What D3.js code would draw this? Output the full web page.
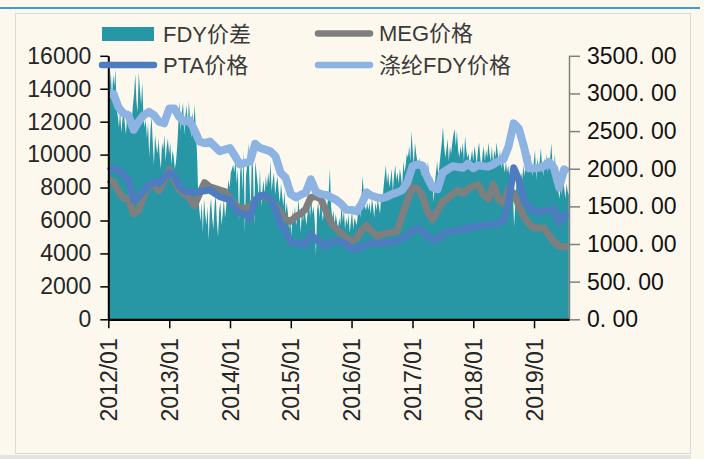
<!DOCTYPE html>
<html>
<head>
<meta charset="utf-8">
<script src="https://cdn.jsdelivr.net/npm/d3@7"></script>
<style>
  html, body { margin: 0; padding: 0; background: #FCF8EE; }
  svg { display: block; }
  text { font-family: "Liberation Sans", Arial, "Noto Sans CJK SC", sans-serif; }
</style>
</head>
<body>
<svg id="chart" width="704" height="459"></svg>
<script>
// ---- data ----
const seriesNames = ["FDY价差", "MEG价格", "PTA价格", "涤纶FDY价格"];
const yearTicks = ["2012/01", "2013/01", "2014/01", "2015/01", "2016/01", "2017/01", "2018/01", "2019/01"];
const leftTicks = [0, 2000, 4000, 6000, 8000, 10000, 12000, 14000, 16000];
const rightTicks = [0, 500, 1000, 1500, 2000, 2500, 3000, 3500];

// FDY spread (right axis), weekly from 2012-01-02
const spreadStart = "2012-01-02";
const spreadWeekly = [
  2950, 3050, 3300, 2900, 3250, 3100, 3320, 2800,
  2700, 2550, 2780, 2480, 2650, 2800, 2600, 2450, 2720, 2680, 2560, 2750, 2620,
  2850, 3000, 3260, 2900, 2750, 3280, 3050, 2850, 3150, 2700,
  2550, 2650, 2400, 2600, 2150, 2500, 2700, 2350, 2050, 2450, 2300, 2200,
  2400, 2150, 2000, 2350, 2250, 2450, 2100, 2300, 2400, 2200, 2350, 2050, 2250, 2150, 2000, 2100,
  2300, 2600, 2900, 2500, 2750, 2880, 2450, 2700, 2850, 2550, 2900, 2650, 2400, 2750, 2600, 2850, 2500, 2200,
  1650, 1450, 1300, 1550, 1150, 1600, 1400, 1250, 1500, 1050, 1450, 1600, 1350, 1200, 1500, 1650, 1300, 1100,
  1450, 1550, 1250, 1400, 1600, 1350, 1500, 1700, 1850, 1750, 1950, 2000,
  2050, 1950, 2150, 1800, 2000, 1300, 1950, 2100, 1700, 2250, 1150, 1900, 2050, 2350, 1850, 1400, 2200, 2000,
  1250, 2100, 1950, 1800, 1600, 2000,
  1500, 1700, 1850, 1650, 1900, 1750, 1950, 1800, 2100, 1700, 1850, 1950, 1650, 1800, 1900, 1700, 1550, 1800,
  1650, 1500, 1700, 1400, 1550,
  1400, 1200, 1350, 1100, 1450, 1300, 1500, 1250, 1350, 1600, 1400, 1150, 1450, 1300, 1550, 1350, 1250,
  1450, 1550, 1350, 1600, 1400, 1500, 1300, 850, 1450, 1550, 1350, 1650, 1450, 1300, 1500, 1600, 1400, 1550,
  1700, 2000, 1500, 1350, 1450, 1250, 1400, 1300, 1200, 1350, 1250,
  1550, 1300, 1450, 1200, 1350, 1250, 1400, 1150, 1300, 1450, 1200, 1350, 1300, 1250, 1400, 1500, 1350,
  1600, 1900, 1700, 1500, 1450, 1550,
  1450, 1550, 1400, 1600, 1500, 1350, 1550, 1450, 1600, 1500, 1400, 1650, 1550, 1750,
  1900, 2050, 1800, 1950, 1750, 1850, 2000, 1700, 1900, 2050, 1850, 1950, 1800, 2000, 1900, 1750, 2100, 1950,
  2050, 2200,
  2150, 2300, 2100, 2500, 2250, 2050, 2350, 2200, 2100, 2000, 2150,
  2000, 1900, 2050, 1850, 1950, 1800, 2100, 1950, 1850, 1750, 1900, 1550, 1800, 1950, 2100, 1900, 2050,
  2200, 2350, 2560, 2300, 2150, 2250, 2400, 2100, 2300, 2200, 2350, 2450, 2530, 2300, 2500, 2250, 2150, 2300,
  2200, 2350, 2100, 2430, 2250, 2150, 2200, 2050,
  2150, 2250, 2100, 2300, 2200, 2050, 2250, 2350, 2150, 2000, 2200, 2300, 2100, 2250, 2150, 2350, 2200, 2100,
  2300, 2050, 2250, 2150, 2350, 2200, 2100, 2250, 2000, 2150, 2050, 1950, 2100, 1950,
  2050, 1900, 2000, 1850, 1700, 1230, 1500, 1800,
  1900, 2000, 1750, 1950, 1850, 2050, 1900, 2100, 2000,
  2150, 1950, 2200, 2050, 1900, 2100, 2250, 1850, 2150, 2000, 2100, 2280, 2050, 1900, 2150, 2000, 2200, 1950,
  2100, 2150, 2340, 2050, 1950, 2200, 1900, 1800,
  1700, 1600, 1850, 1650, 1890, 1750, 1600, 1800, 1700, 1650
];

// Prices (left axis), monthly from 2012/01, plus a final late-July reading
const priceStart = "2012/01";
const priceLastDate = "2019-07-26";
const megMonthly = [
  8500, 8350, 7800, 7350, 7300, 6400, 6600, 7500, 8150, 8200, 7800, 8400,
  9100, 8400, 7900, 7600, 7400, 6900, 7600, 8300, 8050, 7950, 7850, 7750,
  7350, 6950, 6740, 6740, 6800, 7250, 7440, 7440, 7250, 6900, 6500, 6050,
  5950, 6250, 6400, 6700, 7400, 7450, 7300, 6550, 5850, 5500, 5200, 4950,
  4750, 4900, 5400, 5700, 5350, 5050, 5150, 5220, 5280, 5350, 6300, 7200,
  8000, 7950, 7500, 6550, 6050, 6600, 7150, 7350, 7600, 7850, 7650, 7900,
  8100, 8150, 7600, 7300, 8200, 7300, 7050, 7900, 7650, 6900, 6250, 5800,
  5550, 5550, 5550, 5100, 4700, 4450, 4400, 4400
];
const ptaMonthly = [
  9000, 9150, 9100, 8760, 8500, 7250, 7400, 7800, 8150, 8350, 8250, 8600,
  8900, 8700, 8100, 7800, 7750, 7700, 7750, 7800, 7850, 7650, 7450, 7350,
  7250, 6700, 6440, 6400, 6130, 7200, 7500, 7550, 7300, 6700, 5800, 5300,
  4700, 4600, 4610, 4520, 5150, 4850, 4600, 4420, 4700, 4780, 4720, 4550,
  4250, 4300, 4400, 4500, 4600, 4600, 4600, 4650, 4700, 4780, 4900, 5100,
  5300, 5500, 5400, 5000, 4900, 4850, 5150, 5320, 5350, 5400, 5450, 5550,
  5620, 5650, 5700, 5730, 5780, 5830, 6000, 7100, 9200, 8500, 7300, 6800,
  6600, 6530, 6550, 6600, 6650, 5850, 6300, 6440
];
const fdyMonthly = [
  13700, 13700, 12900, 12500, 12400, 11500, 12000, 12400, 12600, 12400, 12000, 11900,
  12800, 12800, 12300, 12000, 12100, 11500, 10800, 10700, 10800, 10500, 10200, 10300,
  10400, 9900, 9400, 9500, 9570, 10650, 10400, 10300, 10200, 9900, 8900, 8600,
  7600, 7400, 7550, 7700, 8500, 7750, 7600, 7550, 7400, 7250, 7000, 6650,
  6640, 6550, 7000, 7700, 7500, 7400, 7350, 7450, 7600, 7700, 7850, 8300,
  9300, 9400, 9350, 8600, 8000, 7900, 8900, 9100, 9300, 9250, 9200, 9450,
  9170, 9350, 9300, 9270, 9400, 9600, 9700, 10500, 11900, 11600, 10500, 9170,
  9170, 9200, 9300, 9550, 9200, 8000, 9100, 8950
];

// ---- layout ----
const svg = d3.select("#chart");
const W = 704, H = 459;
const plot = { left: 108.3, right: 569, top: 55.8, bottom: 319.3 };
const colors = { spread: "#2797A6", meg: "#7F7F7F", pta: "#4D7CC0", fdy: "#8DB3E2" };

// frame
svg.append("rect").attr("x", 0).attr("y", 0).attr("width", W).attr("height", H).attr("fill", "#FCF8EE");
svg.append("line").attr("x1", 0).attr("x2", 700).attr("y1", 8).attr("y2", 8)
  .attr("stroke", "#3E9BD8").attr("stroke-width", 2);
svg.append("rect").attr("x", 15.5).attr("y", 13.5).attr("width", 675).attr("height", 440)
  .attr("fill", "none").attr("stroke", "#DADADA").attr("stroke-width", 1);
svg.append("rect").attr("x", 0).attr("y", 455).attr("width", 691).attr("height", 4).attr("fill", "#E4E4E2");

// ---- scales ----
const parseDay = d3.timeParse("%Y-%m-%d");
const parseMonth = d3.timeParse("%Y/%m");
const x = d3.scaleTime()
  .domain([new Date(2012, 0, 1), new Date(2019, 6, 30)])
  .range([plot.left, plot.right]);
const yL = d3.scaleLinear().domain([0, 16000]).range([plot.bottom, plot.top]);
const yR = d3.scaleLinear().domain([0, 3500]).range([plot.bottom, plot.top]);

// ---- build series ----
const start = parseDay(spreadStart);
const spread = spreadWeekly.map((v, i) => ({ date: d3.timeDay.offset(start, 7 * i), v }));

const m0 = parseMonth(priceStart);
const lastDate = parseDay(priceLastDate);
const priceDates = megMonthly.map((_, i) => i < megMonthly.length - 1 ? d3.timeMonth.offset(m0, i) : lastDate);
const toSeries = arr => arr.map((v, i) => ({ date: priceDates[i], v }));

// ---- marks ----
const area = d3.area()
  .x(d => x(d.date))
  .y0(yR(0))
  .y1(d => yR(d.v));
svg.append("path").datum(spread)
  .attr("d", area)
  .attr("fill", colors.spread);

const line = d3.line().x(d => x(d.date)).y(d => yL(d.v));
[
  { data: toSeries(megMonthly), color: colors.meg, w: 7 },
  { data: toSeries(ptaMonthly), color: colors.pta, w: 7 },
  { data: toSeries(fdyMonthly), color: colors.fdy, w: 8 }
].forEach(s => {
  svg.append("path").datum(s.data)
    .attr("d", line)
    .attr("fill", "none")
    .attr("stroke", s.color)
    .attr("stroke-width", s.w)
    .attr("stroke-linejoin", "round")
    .attr("stroke-linecap", "butt");
});

// ---- axes ----
const fontSize = "23px";

const gL = svg.append("g").attr("transform", `translate(${plot.left},0)`)
  .call(d3.axisLeft(yL).tickValues(leftTicks).tickSize(8).tickSizeOuter(0).tickPadding(9).tickFormat(d3.format("d")));
gL.select(".domain").attr("stroke", "#000").attr("stroke-width", 2);
gL.selectAll(".tick line").attr("stroke", "#000").attr("stroke-width", 1.5);
gL.selectAll(".tick text").attr("fill", "#262626").style("font-size", fontSize);

const gR = svg.append("g").attr("transform", `translate(${plot.right},0)`)
  .call(d3.axisRight(yR).tickValues(rightTicks).tickSize(11).tickSizeOuter(0).tickPadding(7)
    .tickFormat(d => d3.format(".2f")(d).replace(".", ". ")));
gR.select(".domain").attr("stroke", "#808080").attr("stroke-width", 1.5);
gR.selectAll(".tick line").attr("stroke", "#808080").attr("stroke-width", 1.5);
gR.selectAll(".tick text").attr("fill", "#111").style("font-size", fontSize);

const gB = svg.append("g").attr("transform", `translate(0,${plot.bottom})`)
  .call(d3.axisBottom(x).tickValues(yearTicks.map(parseMonth)).tickSize(9).tickSizeOuter(0)
    .tickFormat(d3.timeFormat("%Y/%m")));
gB.select(".domain").attr("stroke", "#000").attr("stroke-width", 2.2);
gB.selectAll(".tick line").attr("stroke", "#000").attr("stroke-width", 1.5);
gB.selectAll(".tick text")
  .attr("fill", "#262626")
  .style("font-size", fontSize)
  .attr("transform", "rotate(-90)")
  .attr("text-anchor", "end")
  .attr("x", -19)
  .attr("y", 0)
  .attr("dy", "0.35em");

// ---- legend ----
const legend = svg.append("g").style("font-size", "22px");
const items = [
  { name: seriesNames[0], type: "rect", color: colors.spread, x: 102, y: 34 },
  { name: seriesNames[1], type: "line", color: colors.meg, x: 315, y: 33.5 },
  { name: seriesNames[2], type: "line", color: colors.pta, x: 99, y: 65 },
  { name: seriesNames[3], type: "line", color: colors.fdy, x: 315, y: 65 }
];
items.forEach(it => {
  if (it.type === "rect") {
    legend.append("rect").attr("x", it.x).attr("y", it.y - 7).attr("width", 52).attr("height", 14)
      .attr("fill", it.color);
  } else {
    legend.append("line").attr("x1", it.x + 3).attr("x2", it.x + 55).attr("y1", it.y).attr("y2", it.y)
      .attr("stroke", it.color).attr("stroke-width", 6.5).attr("stroke-linecap", "round");
  }
  legend.append("text")
    .attr("x", it.x + (it.type === "rect" ? 61 : 64))
    .attr("y", it.y)
    .attr("dy", "0.35em")
    .attr("fill", "#3A3A3A")
    .text(it.name);
});
</script>
</body>
</html>
